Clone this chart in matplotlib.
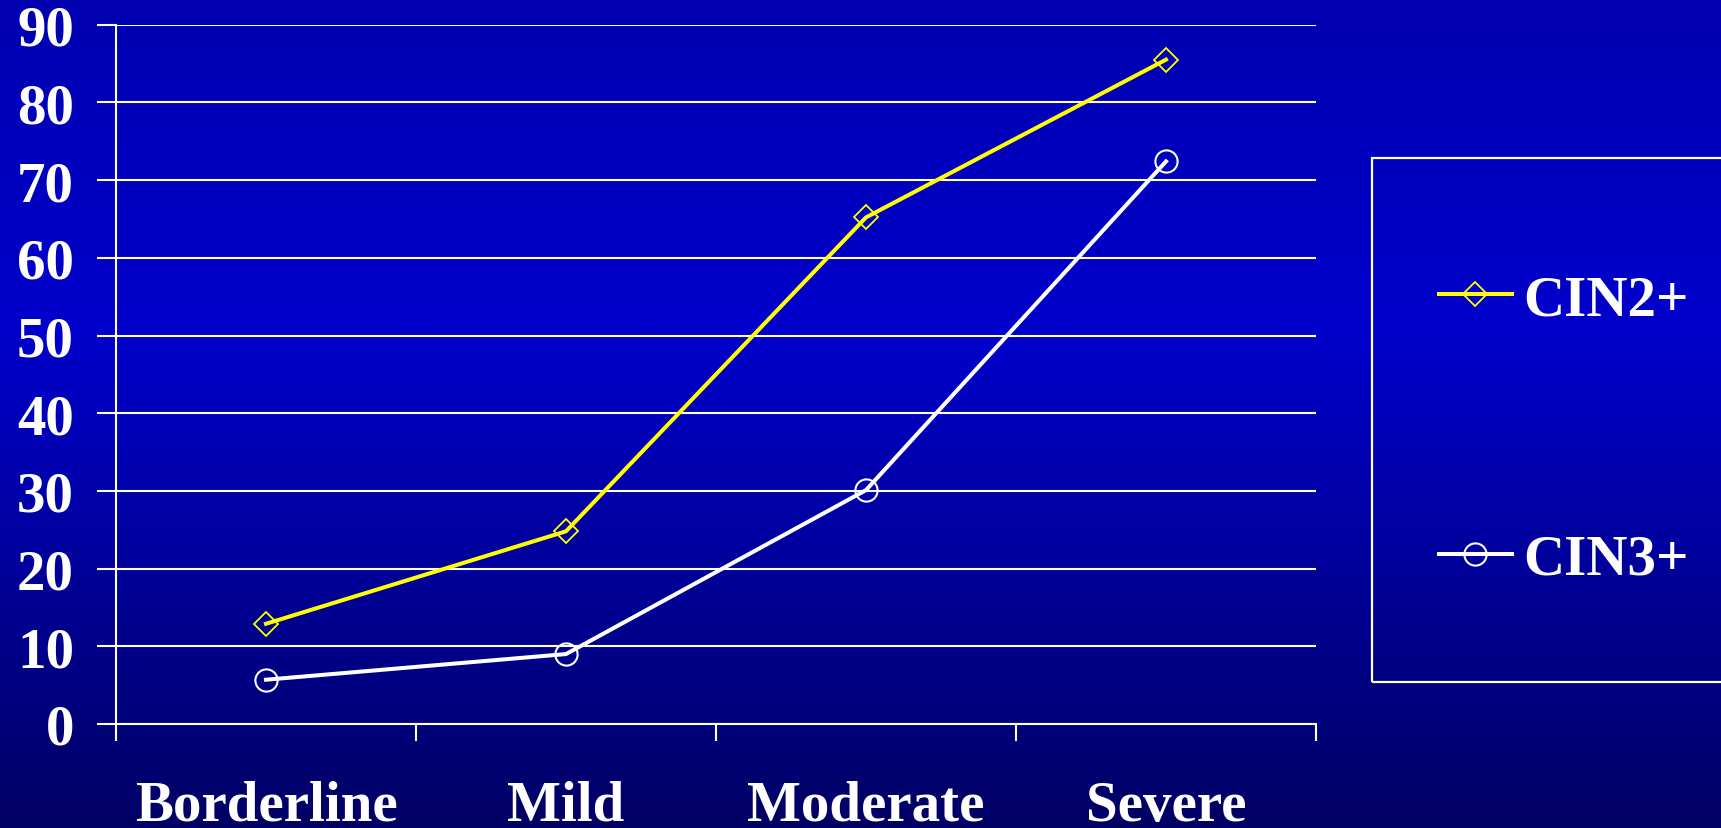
import numpy as np
import matplotlib
matplotlib.use("Agg")
import matplotlib.pyplot as plt
from matplotlib.patches import Rectangle
from matplotlib.colors import LinearSegmentedColormap

categories = ["Borderline", "Mild", "Moderate", "Severe"]
cin2_values = [12.9, 24.8, 65.2, 85.5]
cin3_values = [5.7, 9.0, 30.1, 72.4]
series_labels = ["CIN2+", "CIN3+"]
y_ticks = [0, 10, 20, 30, 40, 50, 60, 70, 80, 90]

plt.rcParams['font.family'] = ['Liberation Serif', 'DejaVu Serif']
plt.rcParams['font.weight'] = 'bold'

FS = 41

fig = plt.figure(figsize=(17.21, 8.29), dpi=100)

# gradient background
bg = fig.add_axes([0, 0, 1, 1], zorder=-10)
cmap = LinearSegmentedColormap.from_list(
    "bg", [(0.0, (0, 0, 176/255)), (0.4, (0, 0, 204/255)), (1.0, (0, 0, 100/255))])
grad = np.linspace(0, 1, 512).reshape(-1, 1)
bg.imshow(grad, aspect='auto', cmap=cmap, extent=[0, 1, 0, 1], origin='upper')
bg.set_axis_off()

ax = fig.add_axes([116/1721, 104/829, 1200/1721, 699.3/829])
ax.set_facecolor('none')

x = np.arange(len(categories)) + 0.5
l1, = ax.plot(x, cin2_values, color='#FFFF00', lw=2.9, marker='D', ms=12.5,
              mfc='none', mec='#FFFF00', mew=1.3, label=series_labels[0], zorder=3, clip_on=False)
l2, = ax.plot(x, cin3_values, color='white', lw=2.9, marker='o', ms=16,
              mfc='none', mec='white', mew=1.5, label=series_labels[1], zorder=3, clip_on=False)

ax.set_xlim(0, 4)
ax.set_ylim(0, 90)
ax.set_yticks(y_ticks)
ax.set_yticklabels([str(v) for v in y_ticks])
ax.set_xticks(np.arange(0, 5))
ax.set_xticklabels([])
ax.set_xticks(x, minor=True)
ax.set_xticklabels(categories, minor=True)

ax.yaxis.grid(True, color='white', lw=1.5)
ax.set_axisbelow(True)
for s in ['top', 'right']:
    ax.spines[s].set_visible(False)
for s in ['left', 'bottom']:
    ax.spines[s].set_color('white')
    ax.spines[s].set_linewidth(1.5)

ax.tick_params(axis='y', which='major', direction='out', length=13.7, width=1.5,
               color='white', labelcolor='white', labelsize=FS, pad=16.5)
ax.tick_params(axis='x', which='major', direction='out', length=12.5, width=1.5,
               color='white')
ax.tick_params(axis='x', which='minor', length=0, labelcolor='white', labelsize=FS, pad=40)
for t in ax.get_yticklabels() + ax.get_xticklabels(minor=True):
    t.set_fontweight('bold')

# legend frame
fig.patches.append(Rectangle((1372/1721, (829-683)/829), 0.25, (683-159)/829,
                             transform=fig.transFigure, fill=False, ec='white', lw=1.6))
leg = fig.legend(handles=[l1, l2], loc='center left',
                 bbox_to_anchor=(1439/1721, (829-431)/829), frameon=False,
                 fontsize=FS, handlelength=1.28, handletextpad=0.2,
                 labelspacing=3.65, borderpad=0, borderaxespad=0)
for t in leg.get_texts():
    t.set_color('white')
    t.set_fontweight('bold')

fig.savefig('out.png', dpi=100)
